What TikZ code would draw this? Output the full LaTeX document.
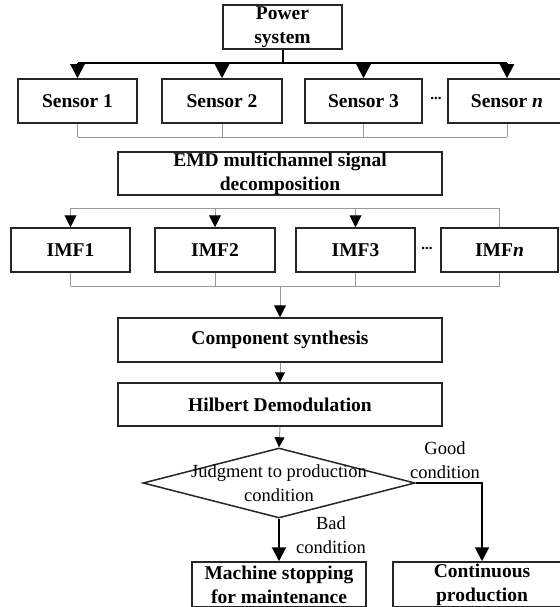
\documentclass[tikz,border=0pt]{standalone}
\usepackage{fontspec}
\setmainfont{Liberation Serif}
\usetikzlibrary{arrows.meta,shapes.geometric}
\begin{document}
\begin{tikzpicture}[x=1pt,y=-1pt,
  box/.style={draw=black!85,line width=1.5pt,inner sep=0pt,align=center,
    minimum height=44pt,font=\fontsize{19.5}{24}\selectfont\bfseries},
  decision/.style={diamond,draw=black!85,line width=1.5pt,inner sep=0pt,
    minimum width=272pt,minimum height=70pt},
  plain/.style={inner sep=0pt,align=center,font=\fontsize{18.5}{24}\selectfont},
  dots/.style={inner sep=0pt,font=\fontsize{15}{15}\selectfont\bfseries},
  busline/.style={line width=2pt},
  grayline/.style={draw=black!40,line width=1pt},
  bigarrow/.style={line width=2pt,-{Triangle[width=14pt,length=14pt]}},
  grayarrow/.style={grayline,-{Triangle[width=12pt,length=12pt,color=black]}},
  smallarrow/.style={grayline,-{Triangle[width=10pt,length=10pt,color=black]}},
]
\useasboundingbox (0,0) rectangle (559,607);
% top box and sensors
\node[box,minimum width=119pt] (power) at (282.5,27) {Power\\system};
\node[box,minimum width=119pt] (s1) at (77.5,101) {Sensor 1};
\node[box,minimum width=120pt] (s2) at (222,101) {Sensor 2};
\node[box,minimum width=117pt] (s3) at (363.5,101) {Sensor 3};
\node[box,minimum width=118pt] (sn) at (507,101) {Sensor \textit{n}};
\node[dots] (sdots) at (436,98) {...};
% decomposition and IMFs
\node[box,minimum width=324pt,minimum height=43pt] (emd) at (280,173.5) {EMD multichannel signal\\decomposition};
\node[box,minimum width=119pt] (imf1) at (70.5,250) {IMF1};
\node[box,minimum width=120pt] (imf2) at (215,250) {IMF2};
\node[box,minimum width=119pt] (imf3) at (355.5,250) {IMF3};
\node[box,minimum width=117pt] (imfn) at (499.5,250) {IMF\textit{n}};
\node[dots] (idots) at (427,248) {...};
% synthesis, demodulation, judgment
\node[box,minimum width=324pt] (comp) at (280,340) {Component synthesis};
\node[box,minimum width=324pt,minimum height=43pt] (hilb) at (280,404.5) {Hilbert Demodulation};
\node[decision] (judge) at (279,483) {};
\node[plain] (judgetxt) at (judge.center) {Judgment to production\\condition};
\node[box,minimum width=174pt,minimum height=45pt] (machine) at (279,584.5) {Machine stopping\\for maintenance};
\node[box,minimum width=178pt,minimum height=45pt] (cont) at (482,584.5) {Continuous\\production};
% labels
\node[plain] (goodlbl) at (445,460) {Good\\condition};
\node[plain] (badlbl) at (331,535) {Bad\\condition};
% power system to sensors
\coordinate (pbus) at (282.5,63);
\draw[busline] (power.south) -- (pbus);
\draw[busline] (pbus -| s1.north) -- (pbus -| sn.north);
\foreach \s in {s1,s2,s3,sn}
  \draw[bigarrow] (pbus -| \s.north) -- (\s.north);
% sensors gathered
\coordinate (sbus) at (280,137);
\foreach \s in {s1,s2,s3,sn}
  \draw[grayline] (\s.south) -- (sbus -| \s.south);
\draw[grayline] (sbus -| s1.south) -- (sbus -| sn.south);
% decomposition to IMFs
\coordinate (ebus) at (280,208);
\draw[grayline] (ebus -| imf1.north) -- (ebus -| imfn.north);
\foreach \s in {imf1,imf2,imf3}
  \draw[grayarrow] (ebus -| \s.north) -- (\s.north);
\draw[grayline] (ebus -| imfn.north) -- (imfn.north);
% IMFs gathered
\coordinate (ibus) at (280,286);
\foreach \s in {imf1,imf2,imf3,imfn}
  \draw[grayline] (\s.south) -- (ibus -| \s.south);
\draw[grayline] (ibus -| imf1.south) -- (ibus -| imfn.south);
\draw[grayarrow] (ibus) -- (comp.north);
% down the chain
\draw[smallarrow] (comp.south) -- (hilb.north);
\draw[smallarrow] (hilb.south) -- (judge.north);
\draw[bigarrow] (judge.south) -- (machine.north);
\draw[bigarrow] (judge.east) -| (cont.north);
\end{tikzpicture}
\end{document}
